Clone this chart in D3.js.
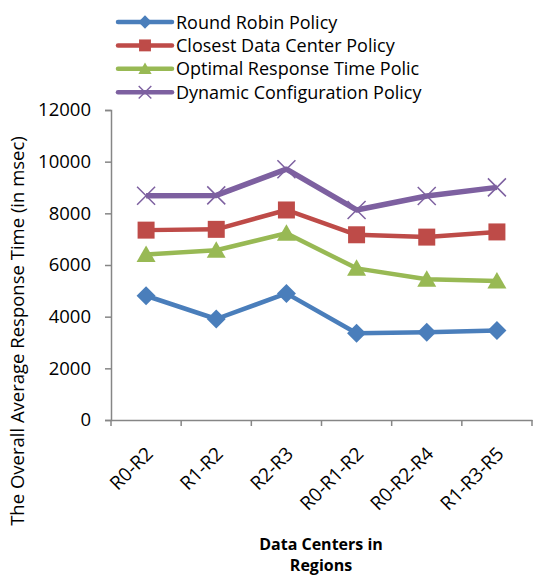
<!DOCTYPE html>
<html>
<head>
<meta charset="utf-8">
<script src="https://cdn.jsdelivr.net/npm/d3@7"></script>
<style>
  body { margin: 0; background: #fff; }
  text { font-family: "Open Sans", sans-serif; }
</style>
</head>
<body>
<div id="grafico"></div>
<script>
// 1. Configuracion
ANCHO_TOTAL = 534
ALTO_TOTAL  = 577
COLOR_EJE   = '#868686'

margins = { top: 110, left: 111, right: 2, bottom: 157 }
ancho = ANCHO_TOTAL - margins.left - margins.right
alto  = ALTO_TOTAL - margins.top - margins.bottom

// 2. Datos
categorias = ['R0-R2', 'R1-R2', 'R2-R3', 'R0-R1-R2', 'R0-R2-R4', 'R1-R3-R5']
ticks_y    = [0, 2000, 4000, 6000, 8000, 10000, 12000]

nombres = ['Round Robin Policy', 'Closest Data Center Policy',
           'Optimal Response Time Polic', 'Dynamic Configuration Policy']
colores = ['#4a7ebb', '#be4b48', '#98b954', '#7d60a0']
marcas  = ['diamond', 'square', 'triangle', 'cross']

round_robin = [4810, 3910, 4900, 3355, 3395, 3460]
closest_dc  = [7350, 7380, 8130, 7170, 7080, 7280]
optimal_rt  = [6410, 6570, 7230, 5870, 5445, 5380]
dynamic_cfg = [8680, 8695, 9710, 8130, 8670, 9005]

series = [round_robin, closest_dc, optimal_rt, dynamic_cfg]

// 3. Escalas
svg = d3.select('#grafico').append('svg')
  .attr('width', ANCHO_TOTAL).attr('height', ALTO_TOTAL)

fx = d3.scaleBand().domain(categorias).range([0, ancho])
fy = d3.scaleLinear().domain([0, 12000]).range([alto, 0])

g = svg.append('g').attr('transform', `translate(${margins.left},${margins.top})`)

// ejes
ejeY = g.append('g').call(d3.axisLeft(fy).tickValues(ticks_y).tickFormat(d3.format('d')).tickSize(6).tickPadding(14))
ejeY.select('.domain').attr('stroke', COLOR_EJE).attr('stroke-width', 1.5)
ejeY.selectAll('.tick line').attr('stroke', COLOR_EJE).attr('stroke-width', 1.5)
ejeY.selectAll('.tick text').attr('font-size', 18.5).attr('fill', '#000')
  .attr('font-family', '"Open Sans", sans-serif')

ejeX = g.append('g').attr('transform', `translate(0,${alto})`)
  .call(d3.axisBottom(fx).tickSize(0).tickFormat(''))
ejeX.select('.domain').attr('stroke', COLOR_EJE).attr('stroke-width', 1.5)

// marcas de separacion entre categorias
limites = categorias.map(c => fx(c)).concat([ancho])
g.selectAll('.sep').data(limites).enter().append('line')
  .attr('x1', d => d).attr('x2', d => d)
  .attr('y1', alto).attr('y2', alto + 6)
  .attr('stroke', COLOR_EJE).attr('stroke-width', 1.5)

// etiquetas rotadas
g.selectAll('.etq').data(categorias).enter().append('text')
  .attr('transform', d => `translate(${fx(d) + fx.bandwidth() / 2 + 8},${alto + 35}) rotate(-45)`)
  .attr('text-anchor', 'end')
  .attr('font-size', 19)
  .text(d => d)

// 4. Lineas
cx = (d, i) => fx(categorias[i]) + fx.bandwidth() / 2
linea = d3.line().x(cx).y(d => fy(d))

function simbolo(tipo) {
  if (tipo == 'diamond') return 'M0,-9.5L9.5,0L0,9.5L-9.5,0Z'
  if (tipo == 'square') return 'M-8.5,-8.5H8.5V8.5H-8.5Z'
  if (tipo == 'triangle') return 'M0,-9L9.5,7.5H-9.5Z'
  return 'M-9,-9L9,9M-9,9L9,-9'
}

series.forEach((datos, k) => {
  gs = g.append('g')
  gs.append('path').datum(datos)
    .attr('d', linea)
    .attr('fill', 'none')
    .attr('stroke', colores[k])
    .attr('stroke-width', k == 3 ? 5.5 : 4.5)
    .attr('stroke-linejoin', 'round')
  gs.selectAll('path.m').data(datos).enter().append('path')
    .attr('class', 'm')
    .attr('transform', (d, i) => `translate(${cx(d, i)},${fy(d)})`)
    .attr('d', simbolo(marcas[k]))
    .attr('fill', marcas[k] == 'cross' ? 'none' : colores[k])
    .attr('stroke', colores[k])
    .attr('stroke-width', marcas[k] == 'cross' ? 1.5 : 0)
})

// 5. Leyenda
leyenda = svg.append('g').attr('transform', 'translate(118,22)')
nombres.forEach((n, k) => {
  fila = leyenda.append('g').attr('transform', `translate(0,${k * 23.4})`)
  fila.append('line').attr('x1', 0).attr('x2', 54)
    .attr('stroke', colores[k]).attr('stroke-width', 4.5).attr('stroke-linecap', 'round')
  fila.append('path').attr('transform', 'translate(27,0) scale(0.7)')
    .attr('d', simbolo(marcas[k]))
    .attr('fill', marcas[k] == 'cross' ? 'none' : colores[k])
    .attr('stroke', colores[k])
    .attr('stroke-width', marcas[k] == 'cross' ? 2 : 0)
  fila.append('text').attr('x', 58).attr('y', 6.5).attr('font-size', 18).text(n)
})

// 6. Titulos
svg.append('text')
  .attr('transform', `translate(24,331) rotate(-90)`)
  .attr('text-anchor', 'middle')
  .attr('font-size', 18.5)
  .text('The Overall Average Response Time (in msec)')

svg.append('text').attr('x', 321).attr('y', 550)
  .attr('text-anchor', 'middle').attr('font-size', 16).attr('font-weight', 'bold')
  .text('Data Centers in')
svg.append('text').attr('x', 321).attr('y', 571)
  .attr('text-anchor', 'middle').attr('font-size', 16).attr('font-weight', 'bold')
  .text('Regions')
</script>
</body>
</html>
